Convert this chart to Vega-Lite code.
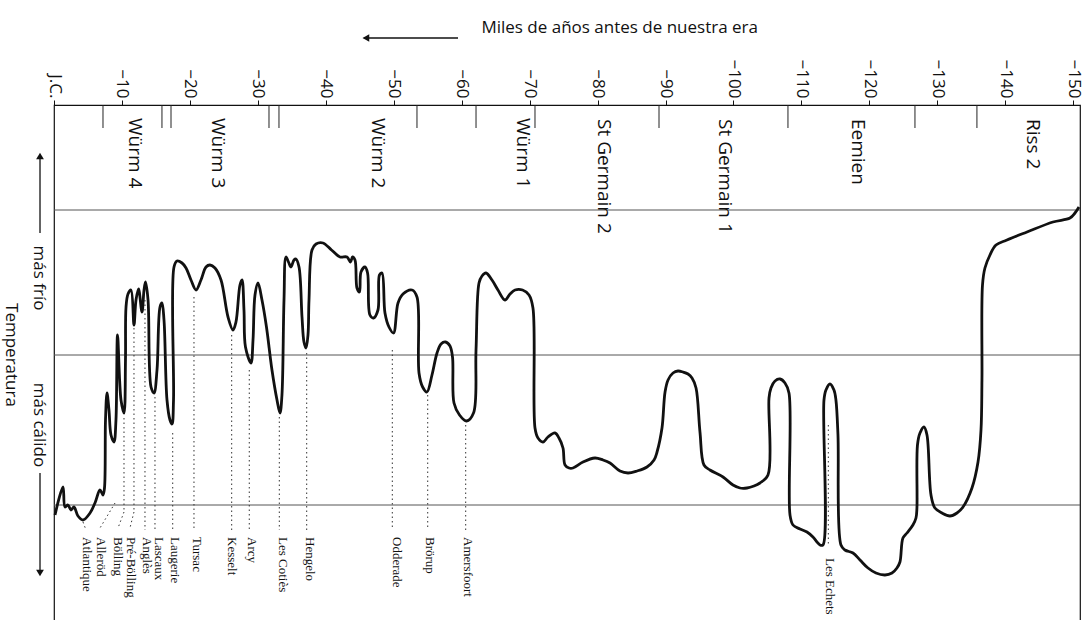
{
  "$schema": "https://vega.github.io/schema/vega-lite/v6.json",
  "width": 1026,
  "height": 516,
  "autosize": {"type": "none"},
  "padding": {"left": 54, "top": 105, "right": 12, "bottom": 0},
  "background": "white",
  "config": {"view": {"stroke": "#111", "strokeWidth": 1.2}, "font": "Open Sans"},
  "datasets": {
    "curva": [
      {"ka": -0.15, "frio": -10}, {"ka": -1.32, "frio": 18}, {"ka": -1.62, "frio": -2}, {"ka": -2.06, "frio": 0},
      {"ka": -2.5, "frio": -5}, {"ka": -2.94, "frio": -2}, {"ka": -3.53, "frio": -11}, {"ka": -4.27, "frio": -15},
      {"ka": -5.3, "frio": -8}, {"ka": -6.03, "frio": 2}, {"ka": -6.77, "frio": 15}, {"ka": -7.21, "frio": 10},
      {"ka": -7.43, "frio": 17}, {"ka": -7.58, "frio": 85}, {"ka": -7.8, "frio": 112}, {"ka": -8.09, "frio": 95},
      {"ka": -8.39, "frio": 70}, {"ka": -8.83, "frio": 63}, {"ka": -9.12, "frio": 85}, {"ka": -9.35, "frio": 170},
      {"ka": -9.86, "frio": 105}, {"ka": -10.3, "frio": 92}, {"ka": -10.52, "frio": 145}, {"ka": -10.6, "frio": 198},
      {"ka": -10.89, "frio": 211}, {"ka": -11.33, "frio": 215}, {"ka": -11.77, "frio": 180}, {"ka": -12.07, "frio": 205},
      {"ka": -12.44, "frio": 216}, {"ka": -12.95, "frio": 193}, {"ka": -13.25, "frio": 215}, {"ka": -13.47, "frio": 223},
      {"ka": -13.84, "frio": 205}, {"ka": -14.28, "frio": 118}, {"ka": -14.72, "frio": 112}, {"ka": -15.16, "frio": 135},
      {"ka": -15.6, "frio": 198}, {"ka": -15.89, "frio": 202}, {"ka": -16.19, "frio": 185}, {"ka": -16.63, "frio": 105},
      {"ka": -17.07, "frio": 85}, {"ka": -17.37, "frio": 81}, {"ka": -17.59, "frio": 105}, {"ka": -17.66, "frio": 238},
      {"ka": -18.1, "frio": 244}, {"ka": -18.84, "frio": 242}, {"ka": -19.43, "frio": 237}, {"ka": -20.16, "frio": 225},
      {"ka": -20.9, "frio": 215}, {"ka": -21.63, "frio": 225}, {"ka": -22.37, "frio": 238}, {"ka": -22.96, "frio": 240},
      {"ka": -23.69, "frio": 237}, {"ka": -24.58, "frio": 225}, {"ka": -25.61, "frio": 188}, {"ka": -26.34, "frio": 175},
      {"ka": -26.78, "frio": 183}, {"ka": -27.37, "frio": 220}, {"ka": -27.67, "frio": 225}, {"ka": -27.96, "frio": 195},
      {"ka": -28.18, "frio": 158}, {"ka": -28.99, "frio": 142}, {"ka": -29.29, "frio": 165}, {"ka": -29.58, "frio": 210},
      {"ka": -30.02, "frio": 222}, {"ka": -30.61, "frio": 205}, {"ka": -31.27, "frio": 178}, {"ka": -32.08, "frio": 135},
      {"ka": -32.82, "frio": 105}, {"ka": -33.26, "frio": 92}, {"ka": -33.55, "frio": 110}, {"ka": -33.85, "frio": 205},
      {"ka": -34.14, "frio": 248}, {"ka": -34.51, "frio": 243}, {"ka": -34.87, "frio": 238}, {"ka": -35.32, "frio": 245},
      {"ka": -35.61, "frio": 246}, {"ka": -36.06, "frio": 238}, {"ka": -36.5, "frio": 188}, {"ka": -36.79, "frio": 163},
      {"ka": -37.09, "frio": 157}, {"ka": -37.38, "frio": 170}, {"ka": -37.53, "frio": 205}, {"ka": -37.97, "frio": 255},
      {"ka": -38.56, "frio": 261}, {"ka": -39.59, "frio": 262}, {"ka": -40.84, "frio": 255}, {"ka": -42.09, "frio": 248},
      {"ka": -43.12, "frio": 248}, {"ka": -43.64, "frio": 243}, {"ka": -43.93, "frio": 248}, {"ka": -44.3, "frio": 245},
      {"ka": -44.59, "frio": 217}, {"ka": -44.96, "frio": 213}, {"ka": -45.18, "frio": 233}, {"ka": -45.77, "frio": 238},
      {"ka": -46.15, "frio": 232}, {"ka": -46.5, "frio": 190}, {"ka": -47.02, "frio": 187}, {"ka": -47.68, "frio": 195},
      {"ka": -47.9, "frio": 230}, {"ka": -48.27, "frio": 232}, {"ka": -48.71, "frio": 192}, {"ka": -49.3, "frio": 178},
      {"ka": -49.96, "frio": 172}, {"ka": -50.63, "frio": 202}, {"ka": -51.36, "frio": 211}, {"ka": -52.69, "frio": 215},
      {"ka": -53.42, "frio": 208}, {"ka": -53.72, "frio": 132}, {"ka": -54.25, "frio": 118}, {"ka": -54.89, "frio": 113},
      {"ka": -55.63, "frio": 130}, {"ka": -56.37, "frio": 152}, {"ka": -56.96, "frio": 161}, {"ka": -57.62, "frio": 163},
      {"ka": -58.28, "frio": 159}, {"ka": -58.65, "frio": 148}, {"ka": -58.87, "frio": 102}, {"ka": -59.68, "frio": 90},
      {"ka": -60.71, "frio": 84}, {"ka": -61.74, "frio": 92}, {"ka": -62.11, "frio": 155}, {"ka": -62.55, "frio": 222},
      {"ka": -62.99, "frio": 229}, {"ka": -63.58, "frio": 232}, {"ka": -64.46, "frio": 225}, {"ka": -65.34, "frio": 215},
      {"ka": -66.37, "frio": 205}, {"ka": -67.11, "frio": 211}, {"ka": -67.85, "frio": 215}, {"ka": -68.96, "frio": 215},
      {"ka": -69.91, "frio": 210}, {"ka": -70.49, "frio": 197}, {"ka": -70.79, "frio": 77}, {"ka": -71.23, "frio": 67},
      {"ka": -71.97, "frio": 63}, {"ka": -72.7, "frio": 68}, {"ka": -73.73, "frio": 72}, {"ka": -74.32, "frio": 67},
      {"ka": -74.91, "frio": 57}, {"ka": -75.21, "frio": 40}, {"ka": -75.8, "frio": 37}, {"ka": -76.38, "frio": 37},
      {"ka": -77.85, "frio": 43}, {"ka": -79.62, "frio": 47}, {"ka": -80.8, "frio": 45}, {"ka": -81.83, "frio": 42},
      {"ka": -83.3, "frio": 34}, {"ka": -84.48, "frio": 32}, {"ka": -85.8, "frio": 34}, {"ka": -87.27, "frio": 38},
      {"ka": -88.31, "frio": 45}, {"ka": -88.75, "frio": 53}, {"ka": -89.48, "frio": 77}, {"ka": -89.93, "frio": 113},
      {"ka": -90.37, "frio": 125}, {"ka": -91.1, "frio": 132}, {"ka": -91.84, "frio": 134}, {"ka": -92.57, "frio": 133},
      {"ka": -93.31, "frio": 131}, {"ka": -93.9, "frio": 127}, {"ka": -94.49, "frio": 117}, {"ka": -95.07, "frio": 73},
      {"ka": -95.66, "frio": 40}, {"ka": -96.54, "frio": 35}, {"ka": -98.46, "frio": 28}, {"ka": -99.93, "frio": 20},
      {"ka": -100.96, "frio": 17}, {"ka": -101.99, "frio": 17}, {"ka": -103.02, "frio": 19}, {"ka": -103.9, "frio": 22},
      {"ka": -105.08, "frio": 30}, {"ka": -105.23, "frio": 107}, {"ka": -105.52, "frio": 117}, {"ka": -106.11, "frio": 124},
      {"ka": -106.85, "frio": 126}, {"ka": -107.58, "frio": 122}, {"ka": -108.17, "frio": 112}, {"ka": -108.32, "frio": -10},
      {"ka": -108.76, "frio": -20}, {"ka": -109.79, "frio": -24}, {"ka": -110.82, "frio": -27}, {"ka": -111.7, "frio": -32},
      {"ka": -112.29, "frio": -37}, {"ka": -112.73, "frio": -40}, {"ka": -113.17, "frio": -40}, {"ka": -113.32, "frio": 105},
      {"ka": -113.61, "frio": 115}, {"ka": -114.2, "frio": 121}, {"ka": -114.79, "frio": 115}, {"ka": -115.08, "frio": 105},
      {"ka": -115.38, "frio": 70}, {"ka": -115.82, "frio": -40}, {"ka": -116.41, "frio": -45}, {"ka": -117.59, "frio": -48},
      {"ka": -118.62, "frio": -55}, {"ka": -119.8, "frio": -63}, {"ka": -120.97, "frio": -68}, {"ka": -122.3, "frio": -70},
      {"ka": -123.33, "frio": -68}, {"ka": -124.06, "frio": -63}, {"ka": -124.5, "frio": -57}, {"ka": -124.94, "frio": -33},
      {"ka": -125.53, "frio": -28}, {"ka": -126.41, "frio": -20}, {"ka": -126.86, "frio": -13}, {"ka": -127.0, "frio": -3},
      {"ka": -127.08, "frio": 60}, {"ka": -127.45, "frio": 72}, {"ka": -128.04, "frio": 78}, {"ka": -128.48, "frio": 70},
      {"ka": -129.07, "frio": 10}, {"ka": -129.65, "frio": -3}, {"ka": -130.69, "frio": -8}, {"ka": -131.86, "frio": -11},
      {"ka": -132.89, "frio": -8}, {"ka": -133.78, "frio": -2}, {"ka": -135.1, "frio": 17}, {"ka": -135.99, "frio": 43},
      {"ka": -136.43, "frio": 75}, {"ka": -136.57, "frio": 125}, {"ka": -136.65, "frio": 220}, {"ka": -137.01, "frio": 237},
      {"ka": -137.75, "frio": 250}, {"ka": -138.63, "frio": 260}, {"ka": -140.25, "frio": 265}, {"ka": -143.2, "frio": 273},
      {"ka": -147.02, "frio": 283}, {"ka": -149.52, "frio": 287}, {"ka": -150.26, "frio": 292}, {"ka": -150.85, "frio": 298}
    ],
    "lineas": [
      {"ka": 0, "ka2": -151, "frio": 0},
      {"ka": 0, "ka2": -151, "frio": 150},
      {"ka": 0, "ka2": -151, "frio": 295}
    ],
    "limites": [
      {"ka": -7.21, "frio": 400, "frio2": 377}, {"ka": -15.89, "frio": 400, "frio2": 377},
      {"ka": -17.22, "frio": 400, "frio2": 377}, {"ka": -31.64, "frio": 400, "frio2": 377},
      {"ka": -33.11, "frio": 400, "frio2": 377}, {"ka": -53.42, "frio": 400, "frio2": 377},
      {"ka": -62.11, "frio": 400, "frio2": 377}, {"ka": -70.79, "frio": 400, "frio2": 377},
      {"ka": -89.04, "frio": 400, "frio2": 377}, {"ka": -108.02, "frio": 400, "frio2": 377},
      {"ka": -126.71, "frio": 400, "frio2": 377}, {"ka": -135.83, "frio": 400, "frio2": 377}
    ],
    "periodos": [
      {"ka": -11.92, "frio": 387, "nombre": "Würm 4"},
      {"ka": -24.14, "frio": 387, "nombre": "Würm 3"},
      {"ka": -47.68, "frio": 387, "nombre": "Würm 2"},
      {"ka": -69.02, "frio": 387, "nombre": "Würm 1"},
      {"ka": -80.94, "frio": 386, "nombre": "St Germain 2"},
      {"ka": -98.75, "frio": 386, "nombre": "St Germain 1"},
      {"ka": -118.32, "frio": 386, "nombre": "Eemien"},
      {"ka": -144.08, "frio": 386, "nombre": "Riss 2"}
    ],
    "punteados": [
      {"ka": -4.27, "frio": -17, "ka2": -4.71, "frio2": -25},
      {"ka": -8.98, "frio": 2, "ka2": -6.77, "frio2": -23},
      {"ka": -10.3, "frio": 87, "ka2": -10.3, "frio2": -7},
      {"ka": -10.3, "frio": -7, "ka2": -9.42, "frio2": -23},
      {"ka": -11.77, "frio": 177, "ka2": -11.77, "frio2": -7},
      {"ka": -11.77, "frio": -7, "ka2": -11.18, "frio2": -23},
      {"ka": -13.39, "frio": 205, "ka2": -13.39, "frio2": -25},
      {"ka": -14.86, "frio": 108, "ka2": -14.86, "frio2": -25},
      {"ka": -17.47, "frio": 72, "ka2": -17.47, "frio2": -25},
      {"ka": -20.6, "frio": 208, "ka2": -20.6, "frio2": -25},
      {"ka": -26.15, "frio": 170, "ka2": -26.15, "frio2": -25},
      {"ka": -28.74, "frio": 135, "ka2": -28.74, "frio2": -25},
      {"ka": -33.16, "frio": 88, "ka2": -33.16, "frio2": -25},
      {"ka": -37.19, "frio": 152, "ka2": -37.19, "frio2": -25},
      {"ka": -49.79, "frio": 155, "ka2": -49.79, "frio2": -25},
      {"ka": -55.0, "frio": 110, "ka2": -55.0, "frio2": -25},
      {"ka": -60.59, "frio": 80, "ka2": -60.59, "frio2": -25},
      {"ka": -113.96, "frio": 80, "ka2": -113.96, "frio2": -40}
    ],
    "eventos": [
      {"ka": -4.86, "frio": -32, "nombre": "Atlantique"},
      {"ka": -6.92, "frio": -32, "nombre": "Alleröd"},
      {"ka": -9.42, "frio": -32, "nombre": "Bölling"},
      {"ka": -11.33, "frio": -32, "nombre": "Pré-Bölling"},
      {"ka": -13.69, "frio": -32, "nombre": "Anglès"},
      {"ka": -15.45, "frio": -32, "nombre": "Lascaux"},
      {"ka": -17.81, "frio": -32, "nombre": "Laugerie"},
      {"ka": -21.04, "frio": -32, "nombre": "Tursac"},
      {"ka": -26.2, "frio": -32, "nombre": "Kesselt"},
      {"ka": -29.14, "frio": -32, "nombre": "Arcy"},
      {"ka": -33.7, "frio": -32, "nombre": "Les Cotiès"},
      {"ka": -37.68, "frio": -32, "nombre": "Hengelo"},
      {"ka": -50.48, "frio": -32, "nombre": "Odderade"},
      {"ka": -55.34, "frio": -32, "nombre": "Brörup"},
      {"ka": -60.93, "frio": -32, "nombre": "Amersfoort"},
      {"ka": -114.2, "frio": -53, "nombre": "Les Echets"}
    ],
    "titulo": [
      {"ka": -62.9, "frio": 472, "texto": "Miles de años antes de nuestra era"}
    ],
    "rotulos": [
      {"ka": 2.21, "frio": 227, "texto": "más frío"},
      {"ka": 2.21, "frio": 80, "texto": "más cálido"},
      {"ka": 6.3, "frio": 150, "texto": "Temperatura"}
    ],
    "flechas": [
      {"ka": -45.6, "frio": 467, "ka2": -59.46, "frio2": 467},
      {"ka": 2.06, "frio": 272, "ka2": 2.06, "frio2": 350},
      {"ka": 2.06, "frio": 32, "ka2": 2.06, "frio2": -68}
    ],
    "puntas": [
      {"ka": -45.9, "frio": 467, "dir": "izquierda"},
      {"ka": 2.06, "frio": 349, "dir": "arriba"},
      {"ka": 2.06, "frio": -68, "dir": "abajo"}
    ]
  },
  "encoding": {
    "x": {
      "field": "ka",
      "type": "quantitative",
      "scale": {"domain": [0, -151], "nice": false, "zero": false},
      "axis": {
        "orient": "top",
        "values": [0, -10, -20, -30, -40, -50, -60, -70, -80, -90, -100, -110, -120, -130, -140, -150],
        "title": null,
        "domain": false,
        "grid": false,
        "ticks": true,
        "tickSize": 5,
        "tickColor": "#111",
        "labelAngle": 90,
        "labelAlign": "right",
        "labelBaseline": "middle",
        "labelPadding": 2,
        "labelFont": "Open Sans",
        "labelFontSize": 17,
        "labelColor": "#111",
        "labelOverlap": false,
        "labelFlush": false,
        "labelExpr": "datum.value == 0 ? 'J.C.' : datum.label"
      }
    },
    "y": {
      "field": "frio",
      "type": "quantitative",
      "scale": {"domain": [-116, 400], "nice": false, "zero": false},
      "axis": null
    }
  },
  "layer": [
    {
      "data": {"name": "lineas"},
      "mark": {"type": "rule", "color": "#555", "strokeWidth": 1},
      "encoding": {"x2": {"field": "ka2"}}
    },
    {
      "data": {"name": "limites"},
      "mark": {"type": "rule", "color": "#222", "strokeWidth": 1},
      "encoding": {"y2": {"field": "frio2"}}
    },
    {
      "data": {"name": "periodos"},
      "mark": {"type": "text", "angle": 90, "align": "left", "baseline": "middle", "font": "Open Sans", "fontSize": 19, "color": "#111"},
      "encoding": {"text": {"field": "nombre"}}
    },
    {
      "data": {"name": "punteados"},
      "mark": {"type": "rule", "color": "#333", "strokeWidth": 1, "strokeDash": [1.5, 3]},
      "encoding": {"x2": {"field": "ka2"}, "y2": {"field": "frio2"}}
    },
    {
      "data": {"name": "curva"},
      "mark": {"type": "line", "color": "#111", "strokeWidth": 2.8, "interpolate": "catmull-rom"},
      "encoding": {"order": {"value": null}}
    },
    {
      "data": {"name": "eventos"},
      "mark": {"type": "text", "angle": 90, "align": "left", "baseline": "middle", "font": "Liberation Serif", "fontSize": 13, "color": "#111"},
      "encoding": {"text": {"field": "nombre"}}
    },
    {
      "data": {"name": "titulo"},
      "mark": {"type": "text", "angle": 0, "align": "left", "baseline": "alphabetic", "font": "Open Sans", "fontSize": 17, "color": "#111"},
      "encoding": {"text": {"field": "texto"}}
    },
    {
      "data": {"name": "rotulos"},
      "mark": {"type": "text", "angle": 90, "align": "center", "baseline": "middle", "font": "Open Sans", "fontSize": 17, "color": "#111"},
      "encoding": {"text": {"field": "texto"}}
    },
    {
      "data": {"name": "flechas"},
      "mark": {"type": "rule", "color": "#111", "strokeWidth": 1.3},
      "encoding": {"x2": {"field": "ka2"}, "y2": {"field": "frio2"}}
    },
    {
      "data": {"name": "puntas"},
      "mark": {"type": "point", "filled": true, "color": "#111", "size": 60, "opacity": 1},
      "encoding": {
        "shape": {
          "field": "dir",
          "type": "nominal",
          "scale": {"domain": ["izquierda", "arriba", "abajo"], "range": ["triangle-left", "triangle-up", "triangle-down"]},
          "legend": null
        }
      }
    }
  ]
}
